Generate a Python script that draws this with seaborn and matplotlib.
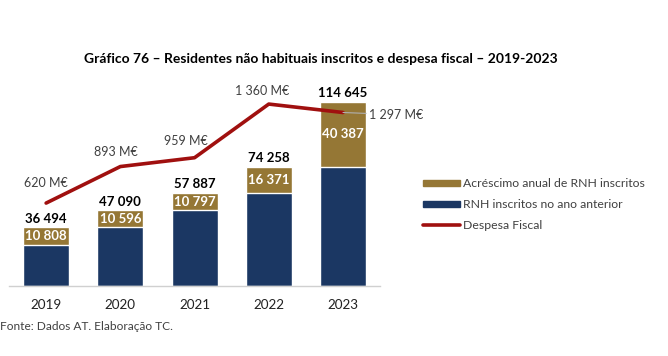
import matplotlib
matplotlib.use("Agg")
import matplotlib.pyplot as plt
import matplotlib.patches as mpatches
import matplotlib.lines as mlines
import pandas as pd
import seaborn as sns

# --- data ---
years = ["2019", "2020", "2021", "2022", "2023"]
total_rnh = [36494, 47090, 57887, 74258, 114645]
acrescimo = [10808, 10596, 10797, 16371, 40387]
despesa = [620, 893, 959, 1360, 1297]

GOLD = "#957735"
NAVY = "#1B3763"
RED = "#A0100F"
GREY = "#404040"

sns.set_theme(style="white")
plt.rcParams["font.family"] = ["Lato", "DejaVu Sans"]

df = pd.DataFrame({"ano": years, "total": total_rnh, "acresc": acrescimo, "despesa": despesa})
df["anterior"] = df["total"] - df["acresc"]


def fmt(v):
    return f"{v:,}".replace(",", " ")


fig = plt.figure(figsize=(6.68, 3.56), dpi=100)
ax = fig.add_axes([0.0135, 0.1966, 0.5555, 0.5787])

# stacked bars: full height in gold, lower part in navy on top
sns.barplot(data=df, x="ano", y="total", color=GOLD, width=0.62, saturation=1, ax=ax)
sns.barplot(data=df, x="ano", y="anterior", color=NAVY, width=0.62, saturation=1, ax=ax)
ax.set_ylim(0, 128300)
ax.set_xlim(-0.5, 4.5)
ax.set_xlabel("")
ax.set_ylabel("")
ax.set_yticks([])
ax.tick_params(axis="x", length=0, pad=9, labelsize=9.7, labelcolor="#222222")
for s in ["top", "right", "left"]:
    ax.spines[s].set_visible(False)
ax.spines["bottom"].set_color("#d0d0d0")
ax.spines["bottom"].set_linewidth(1)

for i, row in df.iterrows():
    ax.annotate(fmt(row["total"]), (i, row["total"]), xytext=(0, 2), textcoords="offset points",
                ha="center", va="bottom", fontsize=9.5, fontweight="bold", color="black")
    ax.text(i, row["anterior"] + row["acresc"] / 2, fmt(row["acresc"]), ha="center", va="center",
            fontsize=9.5, fontweight="bold", color="white")

# fiscal expense line on secondary axis
ax2 = ax.twinx()
df["pos"] = range(len(df))
sns.lineplot(data=df, x="pos", y="despesa", color=RED, linewidth=2.6, ax=ax2)
ax2.set_ylim(0, 1540)
ax2.set_xlim(-0.5, 4.5)
ax2.set_yticks([])
ax2.set_ylabel("")
ax2.set_xlabel("")
for s in ["top", "right", "left", "bottom"]:
    ax2.spines[s].set_visible(False)

offsets = [(0, 10), (-3, 6), (-6, 8), (-5, 5)]
for i in range(4):
    ax2.annotate(f"{fmt(despesa[i])} M€", (i, despesa[i]), xytext=offsets[i], textcoords="offset points",
                 ha="center", va="bottom", fontsize=9, color=GREY)
ax2.annotate(f"{fmt(despesa[4])} M€", (4, despesa[4]), xytext=(19, -1.5), textcoords="offset points",
             ha="left", va="center", fontsize=9, color=GREY,
             arrowprops=dict(arrowstyle="-", color="#b0b0b0", lw=0.8, shrinkA=0, shrinkB=0))

fig.text(0.48, 0.835, "Gráfico 76 – Residentes não habituais inscritos e despesa fiscal – 2019-2023",
         ha="center", va="center", fontsize=10, fontweight="bold", color="black")
fig.text(0.0, 0.083, "Fonte: Dados AT. Elaboração TC.", ha="left", va="center", fontsize=8.6, color=GREY)

handles = [
    mpatches.Patch(color=GOLD, label="Acréscimo anual de RNH inscritos"),
    mpatches.Patch(color=NAVY, label="RNH inscritos no ano anterior"),
    mlines.Line2D([], [], color=RED, linewidth=2.6, label="Despesa Fiscal"),
]
fig.legend(handles=handles, loc="center left", bbox_to_anchor=(0.617, 0.425), frameon=False,
           fontsize=8.8, handlelength=3.0, handleheight=0.45, handletextpad=0.3, labelspacing=0.8,
           labelcolor=GREY)

fig.savefig("out.png", dpi=100)
